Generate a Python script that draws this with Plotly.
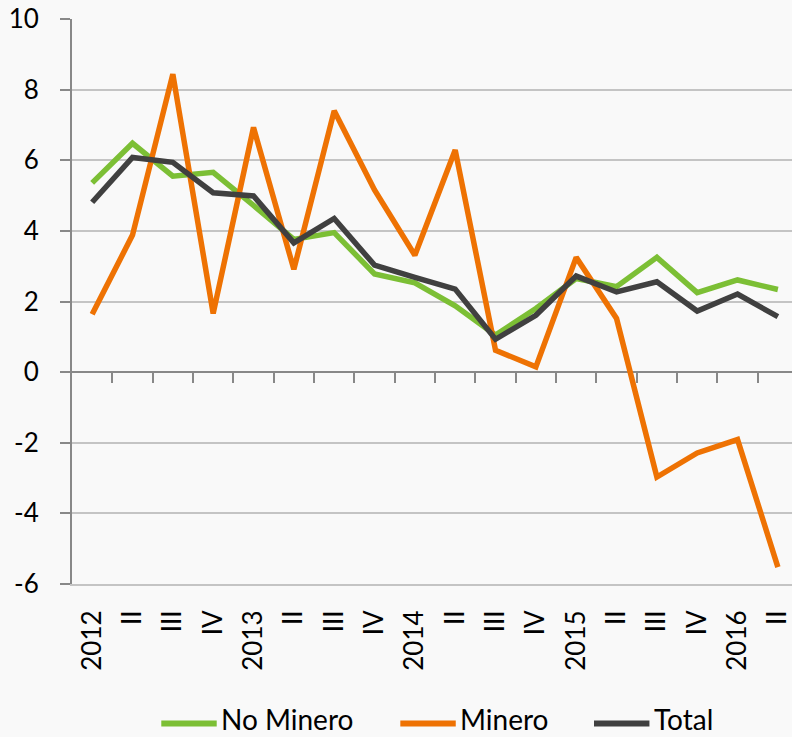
import plotly.graph_objects as go

# Quarter labels
periods = ["2012", "II", "III", "IV", "2013", "II", "III", "IV", "2014", "II", "III", "IV",
           "2015", "II", "III", "IV", "2016", "II"]

# Series values
no_minero = [5.36, 6.48, 5.55, 5.66, 4.72, 3.76, 3.95, 2.78, 2.53, 1.88, 1.05, 1.80,
             2.65, 2.42, 3.25, 2.25, 2.61, 2.34]
minero = [1.64, 3.88, 8.44, 1.66, 6.93, 2.91, 7.40, 5.16, 3.31, 6.29, 0.62, 0.15,
          3.25, 1.52, -2.97, -2.29, -1.91, -5.52]
total = [4.81, 6.08, 5.94, 5.08, 4.99, 3.66, 4.35, 3.03, 2.68, 2.35, 0.93, 1.61,
         2.72, 2.27, 2.56, 1.73, 2.21, 1.57]

y_ticks = [-6, -4, -2, 0, 2, 4, 6, 8, 10]
y_labels = ["-6", "-4", "-2", "0", "2", "4", "6", "8", "10"]

series = [("No Minero", no_minero, "#7CBF35"),
          ("Minero", minero, "#EE7203"),
          ("Total", total, "#404040")]

x = list(range(len(periods)))
font = "Lato, 'Open Sans', sans-serif"
grid = "#c4c4c4"
axis = "#888888"

fig = go.Figure()
for name, vals, color in series:
    fig.add_trace(go.Scatter(x=x, y=vals, mode="lines", name=name,
                             line=dict(color=color, width=5.5)))
# dummy trace so the zero-line axis is drawn
fig.add_trace(go.Scatter(x=[None], y=[None], xaxis="x2", showlegend=False, hoverinfo="skip"))

# hand-made legend below the chart (long line samples like the original)
legend_x = [0.124, 0.456, 0.725]
for (name, vals, color), lx in zip(series, legend_x):
    fig.add_shape(type="line", xref="paper", yref="paper",
                  x0=lx, x1=lx + 0.077, y0=-0.247, y1=-0.247,
                  line=dict(color=color, width=6))
    fig.add_annotation(xref="paper", yref="paper", x=lx + 0.08, y=-0.239,
                       text=name, showarrow=False, xanchor="left", yanchor="middle",
                       font=dict(size=28))

x_range = [-0.5, len(periods) - 0.65]

fig.update_layout(
    width=792, height=737,
    margin=dict(l=72, r=0, t=19, b=153),
    paper_bgcolor="#f9f9f9", plot_bgcolor="#f9f9f9",
    font=dict(family=font, size=26, color="#000000"),
    showlegend=False,
    xaxis=dict(
        range=x_range, tickmode="array", tickvals=x, ticktext=periods,
        tickangle=-90, ticks="", showgrid=False, zeroline=False,
        showline=True, linecolor=grid, linewidth=2,
        ticklabelstandoff=14, automargin=False, ticklabeloverflow="allow",
    ),
    xaxis2=dict(
        range=x_range, overlaying="x", anchor="free", position=0.375,
        tickmode="array", tickvals=[i + 0.5 for i in x[:-1]],
        ticks="outside", ticklen=10, tickwidth=2, tickcolor=axis,
        showticklabels=False, showgrid=False, zeroline=False,
        showline=True, linecolor=axis, linewidth=2, layer="below traces",
        automargin=False,
    ),
    yaxis=dict(
        range=[-6, 10], tickmode="array", tickvals=y_ticks, ticktext=y_labels,
        ticks="outside", ticklen=10, tickwidth=2, tickcolor=axis,
        showline=True, linecolor=axis, linewidth=2,
        showgrid=True, gridcolor=grid, gridwidth=2, zeroline=False,
        ticklabelstandoff=16, automargin=False,
    ),
)

fig.write_html("out.html", config={"displayModeBar": False},
               post_script="document.body.style.margin='0';"
                           "document.body.style.background='#f9f9f9';")
